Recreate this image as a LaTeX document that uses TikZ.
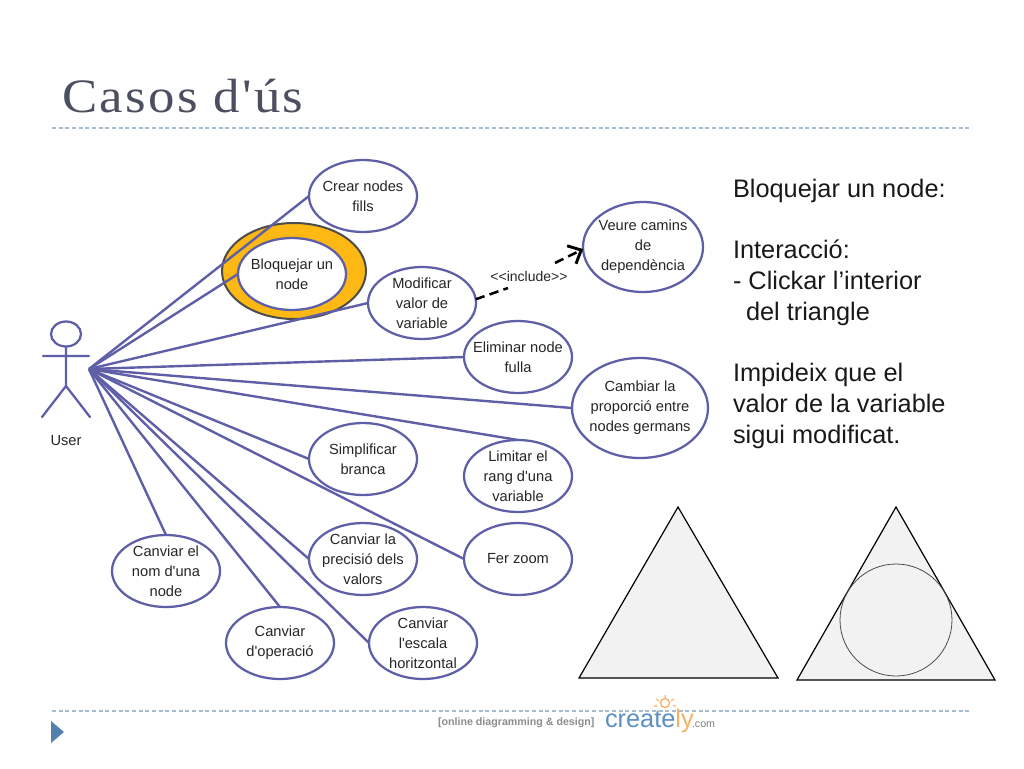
\documentclass[tikz,border=0pt]{standalone}
\usepackage{fontspec}
\newfontfamily\sfx{Liberation Sans}
\newfontfamily\titlefont[FakeStretch=1.1,LetterSpace=5]{Liberation Serif}
\usetikzlibrary{arrows.meta,shapes.geometric}
\pgfdeclarelayer{halolayer}
\pgfdeclarelayer{linelayer}
\pgfsetlayers{halolayer,linelayer,main}
\definecolor{uml}{HTML}{5F5FA8}
\definecolor{sep}{HTML}{A9BCCD}
\definecolor{titlec}{HTML}{4C4F60}
\definecolor{goldy}{HTML}{FDB813}
\definecolor{crblue}{HTML}{5B8FC4}
\definecolor{crorange}{HTML}{F5B266}
\tikzset{
  x=0.75pt,y=-0.75pt,
  every node/.style={inner sep=0pt,outer sep=0pt},
  usecase/.style={ellipse,draw=uml,line width=1.7pt,fill=white,inner sep=-12pt,minimum width=81pt,minimum height=54pt,align=center,font=\sfx\fontsize{11}{15}\selectfont,text=black!85},
  assoc/.style={draw=uml,line width=1.8pt},
  actorline/.style={draw=uml,line width=1.7pt,line cap=round},
  sepline/.style={draw=sep,line width=0.8pt,dash pattern=on 3pt off 2pt},
  rtext/.style={anchor=base west,font=\sfx\fontsize{19}{19}\selectfont,text=black!90},
  tri/.style={draw=black,fill=black!5,line width=0.9pt,line join=miter},
  incl/.style={black,line width=1.9pt,dash pattern=on 7pt off 4pt},
}
\begin{document}
\begin{tikzpicture}
\useasboundingbox (0,0) rectangle (1024,768);
% title and separators
\node[anchor=base west,font=\titlefont\fontsize{36}{36}\selectfont,text=titlec] (title) at (62,112) {Casos d'ús};
\coordinate (s1a) at (52,128); \coordinate (s1b) at (972,128);
\coordinate (s2a) at (52,711); \coordinate (s2b) at (972,711);
\draw[sepline] (s1a) -- (s1b);
\draw[sepline] (s2a) -- (s2b);
\fill[fill=crblue!90!black] (51,721) -- (64,732) -- (51,743) -- cycle;
% highlight
\begin{pgfonlayer}{halolayer}
\node[ellipse,draw=black!70,fill=goldy,line width=1.5pt,minimum width=108pt,minimum height=72pt] (halo) at (294,271) {};
\end{pgfonlayer}
% actor
\draw[actorline] (66,334) ellipse [x radius=15,y radius=12.5];
\draw[actorline] (66,346.5) -- (66,386) (43,356) -- (89,356) (42,417) -- (66,386) -- (90,417);
\node[font=\sfx\fontsize{11}{12}\selectfont,text=black!85] (user) at (66,441) {User};
\coordinate (u) at (89,369);
% use cases
\node[usecase] (crear) at (363,196) {Crear nodes\\fills};
\node[usecase] (bloq) at (292,274) {Bloquejar un\\node};
\node[usecase] (modif) at (422,303) {Modificar\\valor de\\variable};
\node[usecase,minimum width=90pt,minimum height=67.5pt] (veure) at (643,247) {Veure camins\\de\\dependència};
\node[usecase] (elim) at (518,357) {Eliminar node\\fulla};
\node[usecase,minimum width=102pt,minimum height=75pt] (camb) at (640,408) {Cambiar la\\proporció entre\\nodes germans};
\node[usecase] (simp) at (363,459) {Simplificar\\branca};
\node[usecase] (limit) at (518,476) {Limitar el\\rang d'una\\variable};
\node[usecase] (zoom) at (518,559) {Fer zoom};
\node[usecase] (prec) at (363,559) {Canviar la\\precisió dels\\valors};
\node[usecase] (nom) at (166,571) {Canviar el\\nom d'una\\node};
\node[usecase] (oper) at (280,643) {Canviar\\d'operació};
\node[usecase] (escala) at (423,643) {Canviar\\l'escala\\horitzontal};
% associations
\begin{pgfonlayer}{linelayer}
\foreach \t/\a in {crear/west,bloq/west,modif/west,elim/west,camb/west,simp/west,limit/north,zoom/west,prec/west,nom/north,oper/north,escala/west}
  \draw[assoc] (u) -- (\t.\a);
\end{pgfonlayer}
% include
\coordinate (ia) at (508,288);
\coordinate (ib) at (555,263);
\draw[incl] (modif.4) -- (ia);
\draw[incl,-{Straight Barb[length=8pt,width=15pt,line width=2.2pt]}] (ib) -- (veure.182);
\node[font=\sfx\fontsize{10.5}{12}\selectfont,text=black!85] (incl) at (529,276) {<<include>>};
% right text
\node[rtext] (r1) at (733,197) {Bloquejar un node:};
\node[rtext] (r2) at (733,258) {Interacció:};
\node[rtext] (r3) at (733,289) {- Clickar l’interior};
\node[rtext] (r4) at (746,320) {del triangle};
\node[rtext] (r5) at (733,381) {Impideix que el};
\node[rtext] (r6) at (733,412) {valor de la variable};
\node[rtext] (r7) at (733,443) {sigui modificat.};
% triangles
\draw[tri] (678,507) -- (579,678) -- (778,678) -- cycle;
\draw[tri] (896,507) -- (797,680) -- (995,680) -- cycle;
\draw[black!70,line width=0.6pt] (896,620) circle [radius=56];
% logo
\node[anchor=base west,font=\sfx\bfseries\fontsize{8}{10}\selectfont,text=black!45] (l1) at (438,725) {[online diagramming \& design]};
\node[anchor=base west,font=\sfx\fontsize{19}{19}\selectfont,text=crblue] (l2) at (605,727) {create\textcolor{crorange}{ly}};
\node[anchor=base west,font=\sfx\fontsize{8}{10}\selectfont,text=black!50] (l3) at (692,727) {.com};
\draw[crorange,line width=1pt] (665,703) circle [radius=4.5];
\draw[crorange,line width=0.8pt] (665,695) -- (665,698) (656,699) -- (659,701) (674,699) -- (671,701) (654,706) -- (657,706) (676,706) -- (673,706);
\end{tikzpicture}
\end{document}
